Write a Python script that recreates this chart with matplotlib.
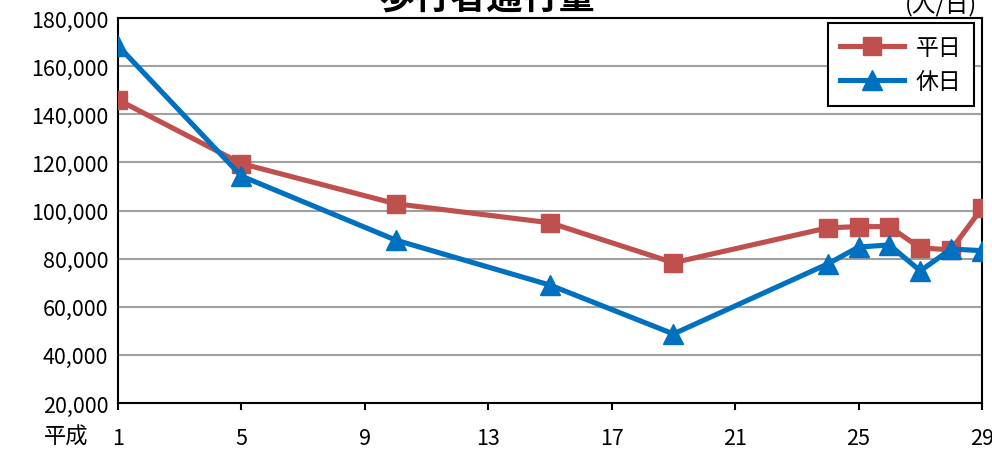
import matplotlib
matplotlib.use("Agg")
import matplotlib.pyplot as plt
from matplotlib.ticker import FuncFormatter

plt.rcParams['font.family'] = ['Noto Sans CJK JP', 'DejaVu Sans']

# 平成 year
years = [1, 5, 10, 15, 19, 24, 25, 26, 27, 28, 29]
weekday = [146000, 119500, 102800, 94900, 78300, 92800, 93300, 93300, 84400, 83700, 101000]
holiday = [168500, 114300, 87700, 69000, 48700, 77800, 84800, 85700, 74900, 84000, 83300]
xticks = [1, 5, 9, 13, 17, 21, 25, 29]
yticks = list(range(20000, 180001, 20000))

fig = plt.figure(figsize=(9.92, 4.52), dpi=100)
ax = fig.add_axes([118/992, 1 - 404/452, (982-118)/992, (404-19)/452])

ax.plot(years, weekday, color='#C0504D', lw=3.7, marker='s', ms=13, label='平日', zorder=3)
ax.plot(years, holiday, color='#0070C0', lw=3.7, marker='^', ms=14, label='休日', zorder=4)

ax.set_xlim(1, 29)
ax.set_ylim(20000, 180000)
ax.set_xticks(xticks)
ax.set_yticks(yticks)
ax.yaxis.set_major_formatter(FuncFormatter(lambda v, p: f'{int(v):,}'))
ax.grid(axis='y', color='#A0A0A0', lw=1.5)
ax.set_axisbelow(True)
ax.tick_params(axis='both', labelsize=15.5, length=5, width=1.5, direction='out')
ax.tick_params(axis='x', pad=12)
ax.tick_params(axis='y', length=0, pad=7)
for s in ax.spines.values():
    s.set_linewidth(1.5)
    s.set_color('black')

ax.text(-0.06, -0.087, '平成', transform=ax.transAxes, fontsize=16, ha='center', va='center')

leg = ax.legend(loc='upper right', bbox_to_anchor=(0.991, 0.987), borderaxespad=0,
                fontsize=16.5, fancybox=False, edgecolor='black', framealpha=1,
                handlelength=2.8, handletextpad=0.5, labelspacing=0.5, borderpad=0.55)
leg.get_frame().set_linewidth(1.5)

fig.text(0.491, 1.005, '歩行者通行量', fontsize=26, fontweight='bold', ha='center', va='center')
fig.text(0.912, 0.99, '(人/日)', fontsize=17, ha='left', va='center')

fig.savefig('out.png', dpi=100)
